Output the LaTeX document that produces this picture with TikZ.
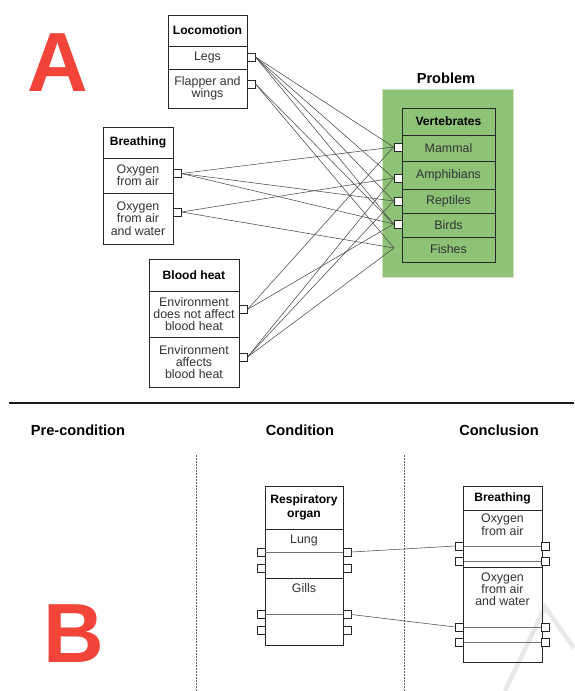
\documentclass[tikz,border=0pt]{standalone}
\usepackage{fontspec}
\setmainfont{Liberation Sans}
\definecolor{letterred}{RGB}{242,68,56}
\definecolor{probgreen}{RGB}{142,194,118}
\definecolor{probedge}{RGB}{205,228,195}
\definecolor{wmgray}{RGB}{232,232,232}
\tikzset{
 cell/.style={draw=black!85, line width=0.9pt, inner sep=0pt, align=center, text=black!80, font=\fontsize{12.4}{12.3}\selectfont},
 headcell/.style={cell, text=black, font=\bfseries\fontsize{12.1}{13}\selectfont},
 port/.style={draw=black!85, fill=white, line width=0.9pt, minimum size=8pt, inner sep=0pt},
 link/.style={draw=black!70, line width=0.55pt},
 inline/.style={draw=black!55, line width=0.6pt},
 sectitle/.style={font=\bfseries\fontsize{14.6}{16}\selectfont, inner sep=0pt},
 bigletter/.style={font=\bfseries\fontsize{84}{84}\selectfont, text=letterred, inner sep=0pt},
 plain/.style={inner sep=0pt, align=center, text=black!80},
}
\begin{document}
\begin{tikzpicture}[x=1pt,y=-1pt]
\useasboundingbox (0,0) rectangle (574,691);
\fill[white] (0,0) rectangle (574,691);

% watermark
\draw[wmgray, line width=4.5pt] (505,691) -- (545,607) -- (574,648);

% big letters
\node[bigletter] (letA) at (57.5,63) {A};
\node[bigletter] (letB) at (74,633.5) {B};

% ---------- Part A ----------
% Locomotion
\node[headcell, minimum width=79pt, minimum height=31pt] (locH) at (207.5,30.5) {Locomotion};
\node[cell, minimum width=79pt, minimum height=23pt] (locLegs) at (207.5,57.5) {Legs};
\node[cell, minimum width=79pt, minimum height=39pt] (locFlap) at (207.5,88.5) {Flapper and\\wings};
\node[port] (pLegs) at (251,57) {};
\node[port] (pFlap) at (251,84) {};

% Breathing
\node[headcell, minimum width=70pt, minimum height=31pt] (brH) at (138,142.5) {Breathing};
\node[cell, minimum width=70pt, minimum height=35pt] (brAir) at (138,175.5) {Oxygen\\from air};
\node[cell, minimum width=70pt, minimum height=51pt] (brAW) at (138,218.5) {Oxygen\\from air\\and water};
\node[port] (pAir) at (177,173.5) {};
\node[port] (pAW) at (177,212) {};

% Blood heat
\node[headcell, minimum width=90pt, minimum height=32pt] (bhH) at (194,275) {Blood heat};
\node[cell, minimum width=90pt, minimum height=46pt] (bhNot) at (194,314) {Environment\\does not affect\\blood heat};
\node[cell, minimum width=90pt, minimum height=50pt] (bhAff) at (194,362) {Environment\\affects\\blood heat};
\node[port] (pNot) at (243,309.5) {};
\node[port] (pAff) at (243,357) {};

% Problem
\node[sectitle] (probT) at (446,78) {Problem};
\node[fill=probgreen, draw=probedge, line width=1pt, minimum width=131pt, minimum height=188pt, inner sep=0pt] (probBg) at (447.5,183) {};
\node[headcell, minimum width=93pt, minimum height=27pt] (vH) at (448.5,121.5) {Vertebrates};
\node[cell, minimum width=93pt, minimum height=26pt] (vMam) at (448.5,148) {Mammal};
\node[cell, minimum width=93pt, minimum height=28pt] (vAmp) at (448.5,175) {Amphibians};
\node[cell, minimum width=93pt, minimum height=24pt] (vRep) at (448.5,201) {Reptiles};
\node[cell, minimum width=93pt, minimum height=24pt] (vBir) at (448.5,225) {Birds};
\node[cell, minimum width=93pt, minimum height=25pt] (vFis) at (448.5,249.5) {Fishes};
\node[port] (pMam) at (398,147) {};
\node[port] (pAmp) at (398,178) {};
\node[port] (pRep) at (398,201) {};
\node[port] (pBir) at (398,224) {};
\coordinate (pFis) at (394,248);

% links
\draw[link] (pLegs.east) -- (pMam.west);
\draw[link] (pLegs.east) -- (pAmp.west);
\draw[link] (pLegs.east) -- (pRep.west);
\draw[link] (pLegs.east) -- (pBir.west);
\draw[link] (pFlap.east) -- (pBir.west);
\draw[link] (pFlap.east) -- (pFis);
\draw[link] (pAir.east) -- (pMam.west);
\draw[link] (pAir.east) -- (pRep.west);
\draw[link] (pAir.east) -- (pBir.west);
\draw[link] (pAW.east) -- (pAmp.west);
\draw[link] (pAW.east) -- (pFis);
\draw[link] (pNot.east) -- (pMam.west);
\draw[link] (pNot.east) -- (pBir.west);
\draw[link] (pAff.east) -- (pAmp.west);
\draw[link] (pAff.east) -- (pRep.west);
\draw[link] (pAff.east) -- (pFis);

% ---------- Part B ----------
\coordinate (divL) at (9,403);
\coordinate (divR) at (574,403);
\draw[black!90, line width=1.3pt] (divL) -- (divR);

\node[sectitle] (tPre) at (78,430) {Pre-condition};
\node[sectitle] (tCond) at (300,430) {Condition};
\node[sectitle] (tConc) at (499,430) {Conclusion};

\coordinate (d1t) at (196,455); \coordinate (d1b) at (196,691);
\coordinate (d2t) at (404,455); \coordinate (d2b) at (404,691);
\draw[black!60, line width=0.6pt, dash pattern=on 2pt off 1pt] (d1t) -- (d1b);
\draw[black!60, line width=0.6pt, dash pattern=on 2pt off 1pt] (d2t) -- (d2b);

% Respiratory organ
\node[headcell, minimum width=78pt, minimum height=43pt, font=\bfseries\fontsize{12.1}{14.5}\selectfont] (roH) at (304,507.5) {Respiratory\\organ};
\node[cell, minimum width=78pt, minimum height=49pt] (roLung) at (304,553.5) {};
\node[cell, minimum width=78pt, minimum height=67pt] (roGills) at (304,611.5) {};
\node[plain, font=\fontsize{12.4}{12.3}\selectfont] (tLung) at (304,541) {Lung};
\node[plain, font=\fontsize{12.4}{12.3}\selectfont] (tGills) at (304,588) {Gills};
\node[port] (roL1) at (261,552) {};
\node[port] (roL2) at (261,568) {};
\node[port] (roL3) at (261,614.5) {};
\node[port] (roL4) at (261,630) {};
\node[port] (roR1) at (347,552) {};
\node[port] (roR2) at (347,568) {};
\node[port] (roR3) at (347,614.5) {};
\node[port] (roR4) at (347,630) {};
\draw[inline] (roL1.east) -- (roR1.west);
\draw[inline] (roL3.east) -- (roR3.west);

% Breathing (conclusion)
\node[headcell, minimum width=79pt, minimum height=24pt] (cbH) at (502.5,498) {Breathing};
\node[cell, minimum width=79pt, minimum height=57pt] (cbAir) at (502.5,538.5) {};
\node[cell, minimum width=79pt, minimum height=95pt] (cbAW) at (502.5,614.5) {};
\node[plain, font=\fontsize{12.4}{11.4}\selectfont] (tcAir) at (502.5,525) {Oxygen\\from air};
\node[plain, font=\fontsize{12.4}{11.4}\selectfont] (tcAW) at (502.5,589) {Oxygen\\from air\\and water};
\node[port] (cbL1) at (459.5,546) {};
\node[port] (cbL2) at (459.5,561) {};
\node[port] (cbL3) at (459.5,627) {};
\node[port] (cbL4) at (459.5,642) {};
\node[port] (cbR1) at (545.5,546) {};
\node[port] (cbR2) at (545.5,561) {};
\node[port] (cbR3) at (545.5,627) {};
\node[port] (cbR4) at (545.5,642) {};
\draw[inline] (cbL1.east) -- (cbR1.west);
\draw[inline] (cbL2.east) -- (cbR2.west);
\draw[inline] (cbL3.east) -- (cbR3.west);
\draw[inline] (cbL4.east) -- (cbR4.west);

% links B
\draw[link] (roR1.east) -- (cbL1.west);
\draw[link] (roR3.east) -- (cbL3.west);
\end{tikzpicture}
\end{document}
